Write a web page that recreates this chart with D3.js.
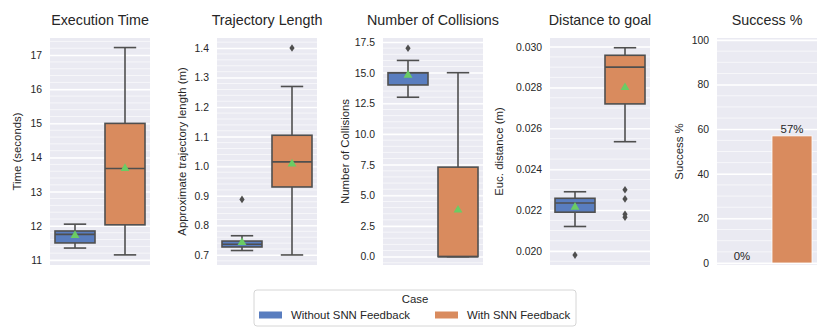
<!DOCTYPE html>
<html>
<head>
<meta charset="utf-8">
<script src="https://cdn.jsdelivr.net/npm/d3@7"></script>
<style>
    body { margin: 0; background: #fff; }
    text { font-family: "Liberation Sans", Arial, sans-serif; fill: #262626; }
</style>
</head>
<body>
<div id="chart"></div>
<script>
//categories / colours
const cases = ["Without SNN Feedback", "With SNN Feedback"];
const caseColors = ["#597dbf", "#d98b5e"];

//box stats per case: [whisker low, q1, median, q3, whisker high]
const timeBoxes = [[11.35, 11.5, 11.75, 11.85, 12.05], [11.15, 12.03, 13.68, 15.0, 17.22]];
const timeMeans = [11.72, 13.68];
const timeOutliers = [[], []];
const timeTicks = [11, 12, 13, 14, 15, 16, 17];

const lengthBoxes = [[0.715, 0.727, 0.736, 0.747, 0.765], [0.70, 0.93, 1.015, 1.105, 1.27]];
const lengthMeans = [0.742, 1.008];
const lengthOutliers = [[0.888], [1.40]];
const lengthTicks = [0.7, 0.8, 0.9, 1.0, 1.1, 1.2, 1.3, 1.4];

const collisionBoxes = [[13, 14, 15, 15, 16], [0, 0, 0, 7.3, 15]];
const collisionMeans = [14.8, 3.8];
const collisionOutliers = [[17], []];
const collisionTicks = [0, 2.5, 5, 7.5, 10, 12.5, 15, 17.5];

const distanceBoxes = [[0.0212, 0.0219, 0.02235, 0.02258, 0.0229], [0.02535, 0.0272, 0.0290, 0.02958, 0.02995]];
const distanceMeans = [0.02215, 0.0280];
const distanceOutliers = [[0.0198], [0.0230, 0.02255, 0.0218, 0.02165]];
const distanceTicks = [0.020, 0.022, 0.024, 0.026, 0.028, 0.030];

const successPct = [0, 57];
const successTicks = [0, 20, 40, 60, 80, 100];

//layout
const width = 830, height = 332;
const plotTop = 38, plotBottom = 265, plotW = 100;

const panels = [
    {title: "Execution Time", ylabel: "Time (seconds)", left: 50, labelX: 17,
        domain: [10.854, 17.5], ticks: timeTicks, minor: 0.2, fmt: d3.format("d"),
        boxes: timeBoxes, means: timeMeans, outliers: timeOutliers},
    {title: "Trajectory Length", ylabel: "Approximate trajectory length (m)", left: 217, labelX: 182,
        domain: [0.666, 1.434], ticks: lengthTicks, minor: 0.02, fmt: d3.format(".1f"),
        boxes: lengthBoxes, means: lengthMeans, outliers: lengthOutliers},
    {title: "Number of Collisions", ylabel: "Number of Collisions", left: 383, labelX: 345,
        domain: [-0.68, 17.83], ticks: collisionTicks, minor: 0.5, fmt: d3.format(".1f"),
        boxes: collisionBoxes, means: collisionMeans, outliers: collisionOutliers},
    {title: "Distance to goal", ylabel: "Euc. distance (m)", left: 550, labelX: 499,
        domain: [0.019315, 0.030426], ticks: distanceTicks, minor: 0.0005, fmt: d3.format(".3f"),
        boxes: distanceBoxes, means: distanceMeans, outliers: distanceOutliers},
    {title: "Success %", ylabel: "Success %", left: 717, labelX: 679,
        domain: [-0.9, 100.9], ticks: successTicks, minor: 5, fmt: d3.format("d"),
        bars: successPct}
];

const lineColor = "#4f4f4f";

const svg = d3.select("#chart").append("svg")
    .attr("width", width)
    .attr("height", height);

panels.forEach(function (p) {
    const x = d3.scaleBand().domain(cases).range([0, plotW]);
    const y = d3.scaleLinear().domain(p.domain).range([plotBottom, plotTop]);
    const g = svg.append("g").attr("transform", "translate(" + p.left + ",0)");

    //background
    g.append("rect")
        .attr("x", 0).attr("y", plotTop)
        .attr("width", plotW).attr("height", plotBottom - plotTop)
        .attr("fill", "#eaeaf2");

    //minor grid
    const lo = Math.ceil(p.domain[0] / p.minor), hi = Math.floor(p.domain[1] / p.minor);
    const minorVals = d3.range(lo, hi + 1).map(k => k * p.minor);
    g.append("g").selectAll("line")
        .data(minorVals)
        .join("line")
        .attr("x1", 0).attr("x2", plotW)
        .attr("y1", d => y(d)).attr("y2", d => y(d))
        .attr("stroke", "#ffffff")
        .attr("stroke-width", 0.6);

    //major grid + tick labels
    const yAxisG = g.append("g")
        .call(d3.axisLeft(y).tickValues(p.ticks).tickSize(-plotW).tickPadding(8).tickFormat(p.fmt));
    yAxisG.select(".domain").remove();
    yAxisG.selectAll(".tick line").attr("stroke", "#ffffff").attr("stroke-width", 1.3);
    yAxisG.selectAll(".tick text")
        .attr("font-size", "10.4px")
        .attr("fill", "#262626");

    //title
    g.append("text")
        .attr("x", plotW / 2).attr("y", 25)
        .attr("text-anchor", "middle")
        .attr("font-size", "14.3px")
        .text(p.title);

    //y label
    g.append("text")
        .attr("transform", "translate(" + (p.labelX - p.left) + "," + ((plotTop + plotBottom) / 2) + ") rotate(-90)")
        .attr("text-anchor", "middle")
        .attr("dominant-baseline", "central")
        .attr("font-size", "11.4px")
        .text(p.ylabel);

    const bw = x.bandwidth() * 0.8;

    if (p.bars) {
        g.selectAll(".bar")
            .data(p.bars)
            .join("rect")
            .attr("x", (d, i) => x(cases[i]) + (x.bandwidth() - bw) / 2)
            .attr("width", bw)
            .attr("y", d => y(d))
            .attr("height", d => y(0) - y(d))
            .attr("fill", (d, i) => caseColors[i])
            .attr("stroke", "#ffffff")
            .attr("stroke-width", 0.8);
        g.selectAll(".barlabel")
            .data(p.bars)
            .join("text")
            .attr("x", (d, i) => x(cases[i]) + x.bandwidth() / 2)
            .attr("y", d => y(d) - 3)
            .attr("text-anchor", "middle")
            .attr("font-size", "11.4px")
            .text(d => d + "%");
        return;
    }

    p.boxes.forEach(function (b, i) {
        const cx = x(cases[i]) + x.bandwidth() / 2;
        const bg = g.append("g");
        //whiskers
        bg.append("line")
            .attr("x1", cx).attr("x2", cx)
            .attr("y1", y(b[0])).attr("y2", y(b[1]))
            .attr("stroke", lineColor).attr("stroke-width", 1.6);
        bg.append("line")
            .attr("x1", cx).attr("x2", cx)
            .attr("y1", y(b[3])).attr("y2", y(b[4]))
            .attr("stroke", lineColor).attr("stroke-width", 1.6);
        //caps
        [b[0], b[4]].forEach(function (v) {
            bg.append("line")
                .attr("x1", cx - bw * 0.28).attr("x2", cx + bw * 0.28)
                .attr("y1", y(v)).attr("y2", y(v))
                .attr("stroke", lineColor).attr("stroke-width", 1.6);
        });
        //box
        bg.append("rect")
            .attr("x", cx - bw / 2).attr("width", bw)
            .attr("y", y(b[3])).attr("height", y(b[1]) - y(b[3]))
            .attr("fill", caseColors[i])
            .attr("stroke", lineColor).attr("stroke-width", 1.6);
        //median
        bg.append("line")
            .attr("x1", cx - bw / 2).attr("x2", cx + bw / 2)
            .attr("y1", y(b[2])).attr("y2", y(b[2]))
            .attr("stroke", lineColor).attr("stroke-width", 1.6);
        //outliers
        bg.selectAll(".out")
            .data(p.outliers[i])
            .join("path")
            .attr("d", "M0,-3.8L2.6,0L0,3.8L-2.6,0Z")
            .attr("transform", d => "translate(" + cx + "," + y(d) + ")")
            .attr("fill", lineColor);
        //mean
        bg.append("path")
            .attr("d", d3.symbol().type(d3.symbolTriangle).size(34)())
            .attr("transform", "translate(" + cx + "," + y(p.means[i]) + ")")
            .attr("fill", "#6acc64");
    });
});

//legend
const legend = svg.append("g").attr("transform", "translate(254,290)");
legend.append("rect")
    .attr("x", 0).attr("y", 0)
    .attr("width", 322).attr("height", 36)
    .attr("rx", 3)
    .attr("fill", "#ffffff")
    .attr("stroke", "#cccccc")
    .attr("stroke-width", 0.8);
legend.append("text")
    .attr("x", 161).attr("y", 13)
    .attr("text-anchor", "middle")
    .attr("font-size", "11.4px")
    .text("Case");
const legendX = [5, 181];
cases.forEach(function (c, i) {
    legend.append("rect")
        .attr("x", legendX[i]).attr("y", 21.5)
        .attr("width", 23).attr("height", 7)
        .attr("fill", caseColors[i]);
    legend.append("text")
        .attr("x", legendX[i] + 32).attr("y", 29)
        .attr("font-size", "11.4px")
        .text(c);
});
</script>
</body>
</html>
